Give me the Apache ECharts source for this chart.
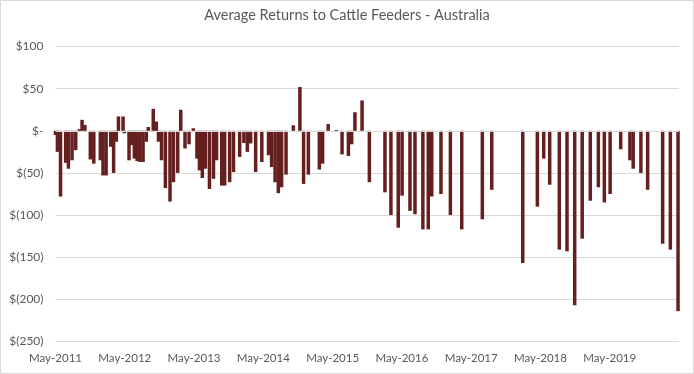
<!DOCTYPE html>
<html>
<head>
<meta charset="utf-8">
<script src="https://cdn.jsdelivr.net/npm/echarts@6/dist/echarts.min.js"></script>
<style>
html,body{margin:0;padding:0;background:#fff;}
#chart{width:694px;height:374px;}
</style>
</head>
<body>
<div id="chart"></div>
<script>
// Dates of each observation
var dates = [
'2011-05-01','2011-05-11','2011-05-27','2011-06-24','2011-07-08','2011-07-27','2011-08-16','2011-09-05','2011-09-19','2011-10-04',
'2011-11-02','2011-11-20','2011-12-24','2012-01-08','2012-01-24','2012-02-18','2012-03-03','2012-03-17','2012-03-28','2012-04-22',
'2012-04-29','2012-05-23','2012-06-07','2012-06-21','2012-07-05','2012-07-20','2012-08-06','2012-08-23','2012-09-03','2012-09-29',
'2012-10-15','2012-10-26','2012-11-12','2012-12-02','2012-12-26','2013-01-14','2013-02-06','2013-02-22','2013-03-14','2013-04-05',
'2013-04-27','2013-05-16','2013-05-29','2013-06-14','2013-06-30','2013-07-21','2013-08-12','2013-08-28','2013-09-25','2013-10-10',
'2013-11-06','2013-11-26','2013-12-28','2014-01-20','2014-02-08','2014-02-25','2014-03-21','2014-04-23','2014-05-28','2014-06-14',
'2014-07-02','2014-07-19','2014-08-06','2014-08-29','2014-10-07','2014-11-11','2014-11-30','2014-12-25','2015-02-22','2015-03-09',
'2015-04-08','2015-05-20','2015-06-20','2015-07-23','2015-08-10','2015-08-27','2015-10-04','2015-11-12','2016-02-03','2016-03-04',
'2016-04-12','2016-05-02','2016-06-13','2016-07-09','2016-08-20','2016-09-18','2016-10-06','2016-11-24','2017-01-13','2017-03-12',
'2017-06-29','2017-08-18','2018-01-29','2018-04-15','2018-05-18','2018-06-19','2018-08-09','2018-09-19','2018-10-29','2018-12-08',
'2019-01-20','2019-03-02','2019-04-03','2019-05-03','2019-06-28','2019-08-16','2019-09-03','2019-10-13','2019-11-18','2020-02-06',
'2020-03-16','2020-04-26'
];
// Average return per head ($)
var returns = [
-5,-25,-78,-38,-45,-35,-23,2,13,7,
-34,-39,-35,-53,-53,-19,-50,-13,17,17,
-3,-35,-17,-33,-36,-37,-37,-13,4.5,26,
11,-13,-35,-68,-84,-61,-50,25,-21,-16,
3,-33,-47,-56,-45,-69,-57,-35,-65,-65,
-61,-49,-31,-14.5,-25,-15,-49,-37,-29,-43,
-61,-74,-67,-52,6.5,52,-63,-52,-46,-39,
8,1,-28,-30,-16,22,36,-61,-73,-100,
-115,-77,-95,-99,-117,-117,-78,-75,-100,-117,
-105,-70,-157,-90,-33,-64,-141,-143,-207,-128,
-83,-67,-85,-75,-22,-35,-45,-50,-70,-134,
-141,-214
];
var xTickLabels = ['May-2011','May-2012','May-2013','May-2014','May-2015','May-2016','May-2017','May-2018','May-2019'];
var yTicks = [100,50,0,-50,-100,-150,-200,-250];
var chartTitle = 'Average Returns to Cattle Feeders - Australia';

function monthIndex(s){
  var p = s.split('-').map(Number);
  return (p[0]-2011)*12 + (p[1]-5) + (p[2]-1)/30;
}
var seriesData = dates.map(function(d,i){ return [monthIndex(d), returns[i]]; });

var chart = echarts.init(document.getElementById('chart'));
var txt = '#595959';
chart.setOption({
  animation:false,
  backgroundColor:'#ffffff',
  textStyle:{fontFamily:'Lato'},
  title:{
    text:chartTitle, left:'center', top:3,
    textStyle:{fontFamily:'Lato', fontSize:14.5, fontWeight:'normal', color:txt}
  },
  graphic:[{type:'rect', shape:{x:0.5,y:0.5,width:693,height:373},
    style:{fill:'none', stroke:'#d9d9d9', lineWidth:1}, silent:true}],
  grid:{left:55.5, right:15, top:46.5, bottom:32.5},
  xAxis:{
    type:'value', min:0, max:108, interval:12,
    axisLine:{show:false}, axisTick:{show:false}, splitLine:{show:false},
    axisLabel:{
      color:txt, fontFamily:'Lato', fontSize:11.5, margin:11,
      showMinLabel:true, showMaxLabel:false,
      formatter:function(v){
        var k = Math.round(v/12);
        if (Math.abs(v - k*12) > 1e-6) return '';
        return xTickLabels[k] || '';
      }
    }
  },
  yAxis:{
    type:'value', min:-250, max:100, interval:50,
    axisLine:{show:false}, axisTick:{show:false},
    splitLine:{lineStyle:{color:'#d9d9d9', width:1}},
    axisLabel:{
      color:txt, fontFamily:'Lato', fontSize:12, margin:12,
      formatter:function(v){
        if (yTicks.indexOf(v) < 0) return '';
        if (v === 0) return '$-';
        return v > 0 ? '$' + v : '$(' + (-v) + ')';
      }
    }
  },
  series:[{
    type:'bar', data:seriesData, barWidth:3.5, clip:false,
    itemStyle:{color:'#661f1f'},
    markLine:{
      silent:true, symbol:'none', animation:false,
      label:{show:false},
      lineStyle:{color:'#d9d9d9', width:1, type:'solid'},
      data:[{yAxis:0}]
    }
  }]
});
</script>
</body>
</html>
